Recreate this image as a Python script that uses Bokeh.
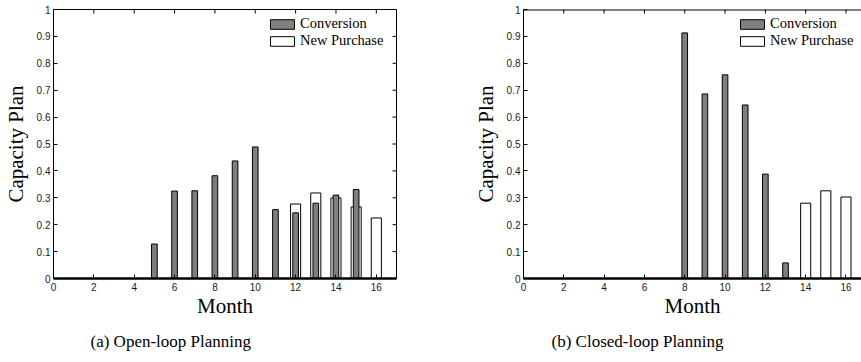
from bokeh.plotting import figure
from bokeh.models import Legend, LegendItem, FixedTicker, Range1d, ColumnDataSource
from bokeh.layouts import row
from bokeh.embed import file_html
from bokeh.resources import INLINE
import math

# ---- data ----
months = [1, 2, 3, 4, 5, 6, 7, 8, 9, 10, 11, 12, 13, 14, 15, 16]

open_conversion = [0, 0, 0, 0, 0.128, 0.325, 0.326, 0.382, 0.437, 0.489, 0.256, 0.244, 0.280, 0.310, 0.331, 0]
open_new_purchase = [0, 0, 0, 0, 0, 0, 0, 0, 0, 0, 0, 0.277, 0.318, 0.299, 0.266, 0.225]

closed_conversion = [0, 0, 0, 0, 0, 0, 0, 0.913, 0.686, 0.757, 0.645, 0.388, 0.058, 0, 0, 0]
closed_new_purchase = [0, 0, 0, 0, 0, 0, 0, 0, 0, 0, 0, 0, 0, 0.280, 0.326, 0.303]

series_names = ["Conversion", "New Purchase"]
captions = ["(a)  Open-loop Planning", "(b)  Closed-loop Planning"]
x_label = "Month"
y_label = "Capacity Plan"

x_ticks = [0, 2, 4, 6, 8, 10, 12, 14, 16]
x_tick_labels = ["0", "2", "4", "6", "8", "10", "12", "14", "16"]
y_ticks = [0, 0.1, 0.2, 0.3, 0.4, 0.5, 0.6, 0.7, 0.8, 0.9, 1.0]
y_tick_labels = ["0", "0.1", "0.2", "0.3", "0.4", "0.5", "0.6", "0.7", "0.8", "0.9", "1"]

GRAY = "#7f7f7f"
SERIF = "Liberation Serif"
SANS = "Liberation Sans"


def style_axis(ax):
    ax.major_tick_in = 4
    ax.major_tick_out = 0
    ax.minor_tick_in = 0
    ax.minor_tick_out = 0
    ax.axis_line_color = "black"
    ax.major_tick_line_color = "black"
    ax.major_label_text_font = SANS
    ax.major_label_text_font_size = "10px"
    ax.major_label_text_color = "#1a1a1a"
    ax.axis_label_text_font = SERIF
    ax.axis_label_text_font_size = "21px"
    ax.axis_label_text_font_style = "normal"
    ax.axis_label_text_color = "black"


def make_panel(conv, new, caption, x_end, width, border_right, cap_offset, right_side):
    x_lo, y_lo, y_hi = 0, 0, 1
    p = figure(width=width, height=362,
               x_range=Range1d(x_lo, x_end), y_range=Range1d(y_lo, y_hi),
               output_backend="svg", toolbar_location=None,
               title=caption, title_location="below",
               min_border_left=53, min_border_right=border_right,
               min_border_top=9, min_border_bottom=84,
               x_axis_label=x_label, y_axis_label=y_label)
    p.grid.visible = False
    p.background_fill_color = "white"
    p.border_fill_color = "white"
    p.outline_line_color = "black" if right_side else None
    p.outline_line_width = 1

    src = ColumnDataSource(dict(month=months, conv=conv, new=new))
    r_new = p.vbar(x="month", top="new", bottom=0, width=0.5, source=src,
                   fill_color="white", line_color="black", line_width=1)
    r_conv = p.vbar(x="month", top="conv", bottom=0, width=0.28, source=src,
                    fill_color=GRAY, line_color="black", line_width=1)

    # inward tick marks on the top (and right) frame edges, clipped by the frame
    p.scatter(x=x_ticks, y=[y_hi] * len(x_ticks), marker="dash", size=8,
              angle=math.pi / 2, line_color="black", line_width=1)
    if right_side:
        p.scatter(x=[x_end] * len(y_ticks), y=y_ticks, marker="dash", size=8,
                  line_color="black", line_width=1)
    else:
        p.line(x=[x_lo, x_end], y=[y_hi, y_hi], line_color="black", line_width=2)

    xa = p.xaxis[0]
    xa.ticker = FixedTicker(ticks=x_ticks)
    xa.major_label_overrides = dict(zip(x_ticks, x_tick_labels))
    style_axis(xa)
    xa.axis_line_width = 2.5
    xa.major_label_standoff = 4
    xa.axis_label_standoff = 0

    ya = p.yaxis[0]
    ya.ticker = FixedTicker(ticks=y_ticks)
    ya.major_label_overrides = dict(zip(y_ticks, y_tick_labels))
    style_axis(ya)
    ya.major_label_standoff = 3
    ya.axis_label_standoff = 6

    legend = Legend(items=[LegendItem(label=series_names[0], renderers=[r_conv]),
                           LegendItem(label=series_names[1], renderers=[r_new])],
                    location=(214, 229), padding=0, margin=0, spacing=0,
                    glyph_width=30, glyph_height=12, label_height=17,
                    label_standoff=3, label_text_font=SERIF,
                    label_text_font_size="14.5px", label_text_color="black",
                    border_line_color=None, background_fill_alpha=0)
    p.add_layout(legend, "center")

    p.title.text_font = SERIF
    p.title.text_font_size = "17px"
    p.title.text_font_style = "normal"
    p.title.text_color = "black"
    p.title.align = "left"
    p.title.offset = cap_offset
    p.title.standoff = 18
    return p


p1 = make_panel(open_conversion, open_new_purchase, captions[0], 17.0, 470, 74, 37, True)
p2 = make_panel(closed_conversion, closed_new_purchase, captions[1], 16.77, 391, 0, 28, False)

layout = row(p1, p2, spacing=0)
open("out.html", "w").write(file_html(layout, INLINE))
